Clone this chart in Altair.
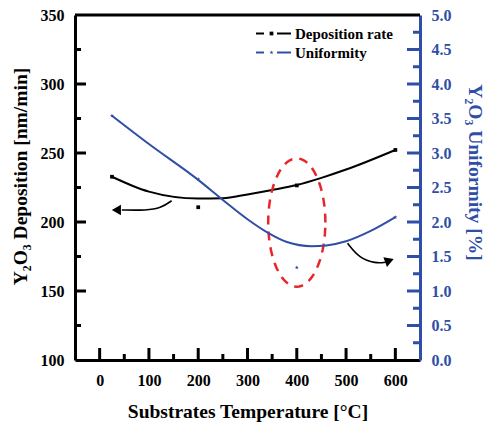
import altair as alt
import pandas as pd

# ---------------- data ----------------
temps = [25, 200, 400, 600]
dep_rate = [232.8, 210.7, 226.5, 252.2]          # nm/min (left axis)
uniformity = [3.54, 2.62, 1.34, 2.07]             # % (right axis)

# fitted curves as drawn in the figure
dep_curve_x = [25, 100, 200, 250, 300, 350, 400, 450, 500, 600]
dep_curve_y = [232.8, 222.0, 217.0, 217.2, 220.0, 223.2, 226.8, 232.0, 238.0, 252.2]
uni_curve_x = [25, 100, 200, 250, 300, 340, 380, 430, 460, 500, 550, 600]
uni_curve_y = [3.54, 3.13, 2.61, 2.32, 2.04, 1.85, 1.71, 1.65, 1.66, 1.72, 1.87, 2.07]

# axis labels / ticks
x_labels = [0, 100, 200, 300, 400, 500, 600]
x_minor = [50, 150, 250, 350, 450, 550]
left_labels = [100, 150, 200, 250, 300, 350]
left_major = [150, 200, 250, 300]
left_minor = [125, 175, 225, 275, 325]
right_labels = [0.0, 0.5, 1.0, 1.5, 2.0, 2.5, 3.0, 3.5, 4.0, 4.5, 5.0]
right_major = [0.5, 1.0, 1.5, 2.0, 2.5, 3.0, 3.5, 4.0, 4.5]
right_minor = [0.25, 0.75, 1.25, 1.75, 2.25, 2.75, 3.25, 3.75, 4.25, 4.75]

# annotations (in temperature / deposition-rate units)
ellipse_center = [400, 199.6]
ellipse_radii = [58, 46.5]
arrow1_x = [146, 124, 95, 45]
arrow1_y = [215.4, 210.0, 208.4, 208.7]
arrow1_head = [34, 208.7]
arrow2_x = [503, 527, 560, 580]
arrow2_y = [184.6, 173.7, 170.0, 170.8]
arrow2_head = [588, 172.0]

series_names = ["Deposition rate", "Uniformity"]

# ---------------- styling ----------------
W, H = 345, 345
BLUE = "#2f4ea6"
FONT = "Liberation Serif"

xscale = alt.Scale(domain=[-50, 650], nice=False, zero=False)
ylscale = alt.Scale(domain=[100, 350], nice=False, zero=False)
yrscale = alt.Scale(domain=[0, 5], nice=False, zero=False)

x_axis = alt.Axis(values=x_labels, format="d", title="Substrates Temperature [°C]",
                  ticks=False, grid=False, domainColor="black", domainWidth=3,
                  labelFont=FONT, labelFontSize=16, labelFontWeight="bold", labelColor="black",
                  labelPadding=12, titleFont=FONT, titleFontSize=19.5, titleFontWeight="bold",
                  titleColor="black", titlePadding=14)
yl_axis = alt.Axis(values=left_labels, format="d", title="Y₂O₃ Deposition [nm/min]",
                   ticks=False, grid=False, domainColor="black", domainWidth=3,
                   labelFont=FONT, labelFontSize=16, labelFontWeight="bold", labelColor="black",
                   labelPadding=11, titleFont=FONT, titleFontSize=19.5, titleFontWeight="bold",
                   titleColor="black", titlePadding=10, titleY=161)
yr_axis = alt.Axis(values=right_labels, format=".1f", title="Y₂O₃ Uniformity [%]", orient="right",
                   ticks=False, grid=False, domainColor=BLUE, domainWidth=3,
                   labelFont=FONT, labelFontSize=16, labelFontWeight="bold", labelColor=BLUE,
                   labelPadding=11, titleFont=FONT, titleFontSize=19.5, titleFontWeight="bold",
                   titleColor=BLUE, titlePadding=13, titleAngle=90, titleY=157)

def X(field):
    return alt.X(field, type="quantitative", scale=xscale, axis=x_axis)

def YL(field):
    return alt.Y(field, type="quantitative", scale=ylscale, axis=yl_axis)

def YR(field):
    return alt.Y(field, type="quantitative", scale=yrscale, axis=yr_axis)

points_df = pd.DataFrame({"t": temps, "dep": dep_rate, "uni": uniformity})
dep_curve_df = pd.DataFrame({"t": dep_curve_x, "v": dep_curve_y})
uni_curve_df = pd.DataFrame({"t": uni_curve_x, "v": uni_curve_y})

STAR = "M0,-1L0.24,-0.33L0.95,-0.31L0.38,0.12L0.59,0.81L0,0.4L-0.59,0.81L-0.38,0.12L-0.95,-0.31L-0.24,-0.33Z"

# ---------------- left (deposition) group ----------------
dep_line = alt.Chart(dep_curve_df).mark_line(color="black", strokeWidth=2, interpolate="monotone").encode(
    x=X("t"), y=YL("v"))
dep_pts = alt.Chart(points_df).mark_point(shape="square", filled=True, size=14, color="black", opacity=1).encode(
    x=X("t"), y=YL("dep"))

ellipse = alt.Chart(alt.sequence(0, 365, 5, as_="a")).transform_calculate(
    t=f"{ellipse_center[0]} + {ellipse_radii[0]}*cos(datum.a*PI/180)",
    v=f"{ellipse_center[1]} + {ellipse_radii[1]}*sin(datum.a*PI/180)",
).mark_line(color="#e8262a", strokeWidth=2.5, strokeDash=[9, 7]).encode(
    x=X("t"), y=YL("v"), order="a:Q")

a1_df = pd.DataFrame({"t": arrow1_x, "v": arrow1_y, "o": list(range(len(arrow1_x)))})
a2_df = pd.DataFrame({"t": arrow2_x, "v": arrow2_y, "o": list(range(len(arrow2_x)))})
arrow1 = alt.Chart(a1_df).mark_line(color="black", strokeWidth=1.6, interpolate="basis").encode(
    x=X("t"), y=YL("v"), order="o:Q")
arrow2 = alt.Chart(a2_df).mark_line(color="black", strokeWidth=1.6, interpolate="basis").encode(
    x=X("t"), y=YL("v"), order="o:Q")
heads_df = pd.DataFrame({"t": [arrow1_head[0], arrow2_head[0]], "v": [arrow1_head[1], arrow2_head[1]],
                         "ang": [180, 340]})
heads = alt.Chart(heads_df).mark_point(shape="triangle-right", filled=True, size=110, color="black",
                                       opacity=1).encode(
    x=X("t"), y=YL("v"), angle=alt.Angle("ang:Q", scale=None))

lt_major = alt.Chart(pd.DataFrame({"v": left_major})).mark_rule(color="black", strokeWidth=3).encode(
    y=YL("v"), x=alt.value(0), x2=alt.value(11))
lt_minor = alt.Chart(pd.DataFrame({"v": left_minor})).mark_rule(color="black", strokeWidth=3).encode(
    y=YL("v"), x=alt.value(0), x2=alt.value(6))
bt_major = alt.Chart(pd.DataFrame({"t": x_labels})).mark_rule(color="black", strokeWidth=3).encode(
    x=X("t"), y=alt.value(H), y2=alt.value(H - 12))
bt_minor = alt.Chart(pd.DataFrame({"t": x_minor})).mark_rule(color="black", strokeWidth=3).encode(
    x=X("t"), y=alt.value(H), y2=alt.value(H - 6))
top_border = alt.Chart(pd.DataFrame({"d": [0]})).mark_rule(color="black", strokeWidth=3).encode(
    x=alt.value(0), x2=alt.value(W), y=alt.value(0))

left_group = alt.layer(dep_line, dep_pts, lt_major, lt_minor, bt_major, bt_minor, top_border, ellipse,
                       arrow1, arrow2, heads)

# ---------------- right (uniformity) group ----------------
uni_line = alt.Chart(uni_curve_df).mark_line(color=BLUE, strokeWidth=2, interpolate="monotone").encode(
    x=X("t"), y=YR("v"))
uni_pts = alt.Chart(points_df).mark_point(shape=STAR, filled=True, size=18, color=BLUE, opacity=1).encode(
    x=X("t"), y=YR("uni"))
rt_major = alt.Chart(pd.DataFrame({"v": right_major})).mark_rule(color=BLUE, strokeWidth=3).encode(
    y=YR("v"), x=alt.value(W - 13), x2=alt.value(W))
rt_minor = alt.Chart(pd.DataFrame({"v": right_minor})).mark_rule(color=BLUE, strokeWidth=3).encode(
    y=YR("v"), x=alt.value(W - 7), x2=alt.value(W))

right_group = alt.layer(uni_line, uni_pts, rt_major, rt_minor)

# ---------------- legend ----------------
def legend_row(name, color, ypix, shape, size):
    d = pd.DataFrame({"n": [name]})
    seg1 = alt.Chart(d).mark_rule(color=color, strokeWidth=2).encode(
        x=alt.value(181), x2=alt.value(189), y=alt.value(ypix))
    seg2 = alt.Chart(d).mark_rule(color=color, strokeWidth=2).encode(
        x=alt.value(202), x2=alt.value(216), y=alt.value(ypix))
    dot = alt.Chart(d).mark_point(shape=shape, filled=True, size=size, color=color, opacity=1).encode(
        x=alt.value(196.5), y=alt.value(ypix))
    txt = alt.Chart(d).mark_text(align="left", baseline="middle", font=FONT, fontSize=15,
                                 fontWeight="bold", color="black").encode(
        x=alt.value(220), y=alt.value(ypix), text="n:N")
    return [seg1, seg2, dot, txt]

legend_layers = legend_row(series_names[0], "black", 18.5, "square", 14) + \
    legend_row(series_names[1], BLUE, 37.5, STAR, 18)

chart = alt.layer(left_group, right_group, *legend_layers).resolve_scale(y="independent").properties(
    width=W, height=H,
    autosize=alt.AutoSizeParams(type="none"),
    padding={"left": 67, "top": 7, "right": 65, "bottom": 64},
).configure_view(stroke=None).configure(background="white")

chart.save("out.html", embed_options={"renderer": "svg", "actions": False})
